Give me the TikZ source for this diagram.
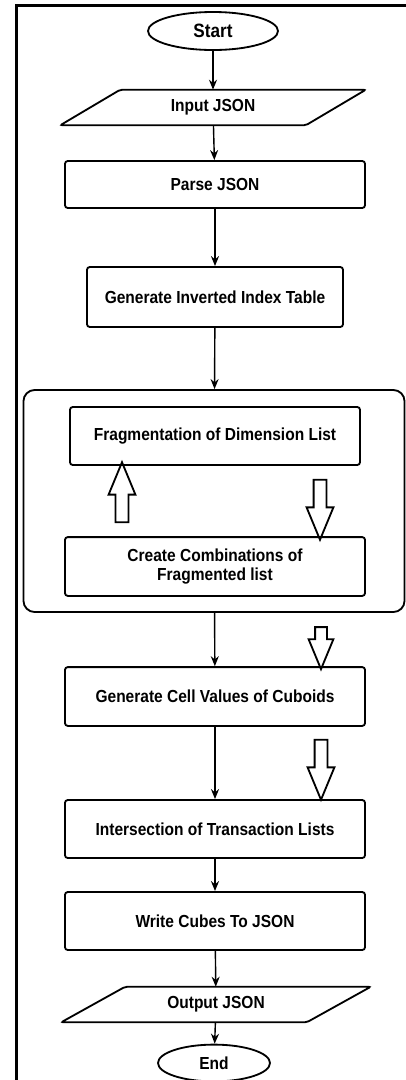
\documentclass[tikz,border=0pt]{standalone}
\usepackage{fontspec}
\setmainfont{Liberation Sans}[FakeStretch=0.89]
\usetikzlibrary{arrows.meta, shapes.geometric, shapes.arrows}

\begin{document}
\begin{tikzpicture}[
    x=0.025cm, y=-0.025cm,
    every node/.style={font=\bfseries\fontsize{12.4}{13.5}\selectfont},
    term/.style={draw, ellipse, line width=1.3pt, inner sep=0pt},
    iobox/.style={rectangle, minimum width=6.125cm, minimum height=0.875cm, inner sep=0pt},
    io/.style={line width=1.3pt, rounded corners=1.5pt},
    proc/.style={draw, rectangle, line width=1.3pt, rounded corners=2pt, align=center,
        minimum width=7.5cm, minimum height=1.47cm},
    group/.style={draw, rectangle, line width=1.3pt, rounded corners=8pt},
    fat/.style={draw, single arrow, line width=1.3pt, inner sep=0.1375cm, minimum height=1.5cm,
        single arrow head extend=0.175cm, single arrow tip angle=45},
    arrow/.style={-{Stealth[length=0.25cm, width=0.2cm]}, line width=1pt}
]
\useasboundingbox (0,0) rectangle (406,1080);

% Frame on the left and on top
\draw[line width=2.2pt] (16.5,1080) |- (406,5.5);

% Main flow
\node[term, minimum width=3.25cm, minimum height=0.95cm, font=\bfseries\fontsize{13.7}{15}\selectfont] (start) at (213,31) {Start};
\node[iobox] (input) at (213,107.5) {Input JSON};
\draw[io] ([xshift=0.75cm]input.north west) -- ([xshift=0.75cm]input.north east)
    -- ([xshift=-0.75cm]input.south east) -- ([xshift=-0.75cm]input.south west) -- cycle;
\node[proc, minimum height=1.175cm] (parse) at (215,184.5) {Parse JSON};
\node[proc, minimum width=6.4cm, minimum height=1.5cm] (index) at (215,297) {Generate Inverted Index Table};

% Loop of fragmentation and combination
\node[group, minimum width=9.525cm, minimum height=5.55cm] (loop) at (214,501) {};
\node[proc, minimum width=7.25cm, minimum height=1.45cm] (frag) at (215,436) {Fragmentation of Dimension List};
\node[proc] (comb) at (215,566.5) {Create Combinations of\\Fragmented list};
\node[fat, shape border rotate=90]  (back) at (122,500) {};
\node[fat, shape border rotate=270] (next) at (320,502) {};

\node[proc] (cell) at (215,696.5) {Generate Cell Values of Cuboids};
\node[fat, shape border rotate=270, minimum height=1.05cm, inner sep=0.125cm,
    single arrow head extend=0.1625cm] (out) at (321,641) {};
\node[fat, shape border rotate=270] (flow) at (321,762) {};

\node[proc, minimum height=1.45cm] (inter) at (215,829) {Intersection of Transaction Lists};
\node[proc, minimum height=1.45cm] (write) at (215,921) {Write Cubes To JSON};
\node[iobox] (output) at (216,1004.5) {Output JSON};
\draw[io] ([xshift=0.8cm]output.north west) -- ([xshift=0.8cm]output.north east)
    -- ([xshift=-0.8cm]output.south east) -- ([xshift=-0.8cm]output.south west) -- cycle;
\node[term, minimum width=2.8cm, minimum height=0.92cm] (end) at (214,1063) {End};

% Connectors
\draw[arrow] (start) -- (input);
\draw[arrow] (input) -- (parse);
\draw[arrow] (parse) -- (index);
\draw[arrow] (index) -- (loop);
\draw[arrow] (loop) -- (cell);
\draw[arrow] (cell) -- (inter);
\draw[arrow] (inter) -- (write);
\draw[arrow] (write) -- (output);
\draw[arrow] (output) -- (end);

\end{tikzpicture}
\end{document}
